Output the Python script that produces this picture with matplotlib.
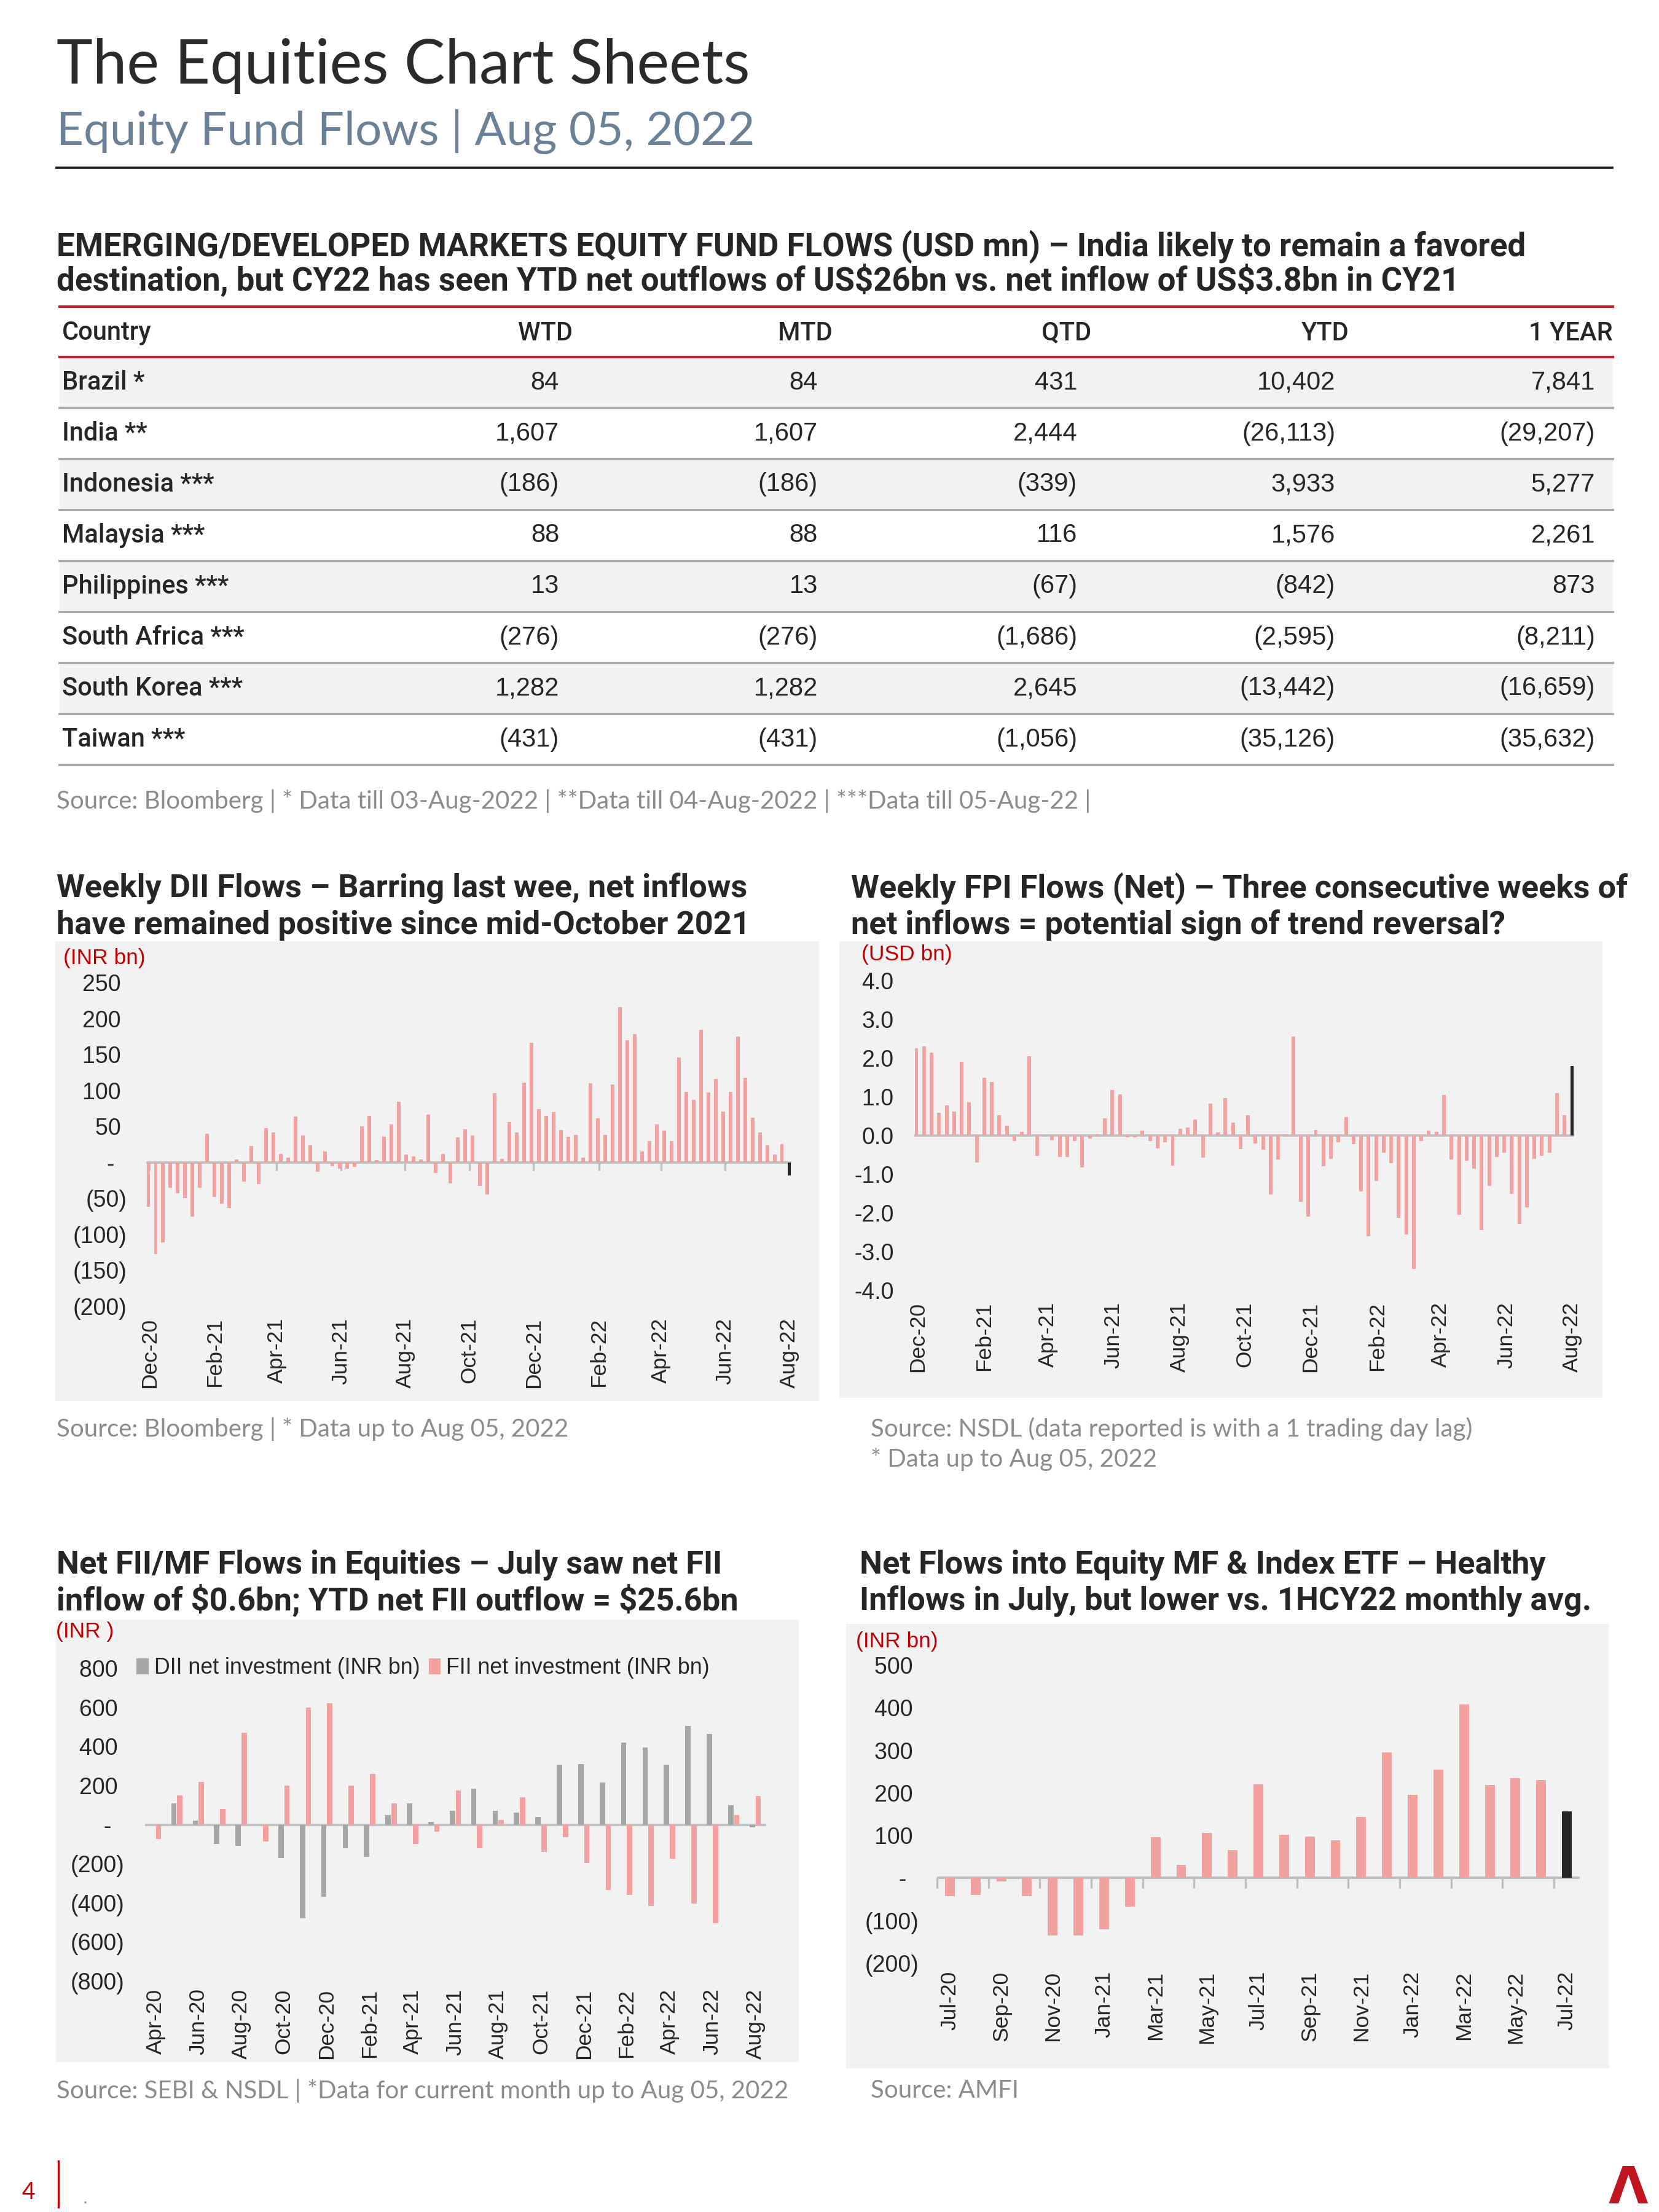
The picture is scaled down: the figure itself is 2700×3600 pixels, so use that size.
import matplotlib
matplotlib.use('Agg')
import matplotlib.pyplot as plt
import matplotlib.dates as mdates
import matplotlib.font_manager as fm
from matplotlib.patches import Rectangle
from matplotlib.lines import Line2D
from matplotlib.ticker import FuncFormatter
import numpy as np
import pandas as pd

# ---------------- data ----------------
table_countries = ['Brazil *', 'India **', 'Indonesia ***', 'Malaysia ***',
                   'Philippines ***', 'South Africa ***', 'South Korea ***', 'Taiwan ***']
table_columns = ['WTD', 'MTD', 'QTD', 'YTD', '1 YEAR']
wtd = [84, 1607, -186, 88, 13, -276, 1282, -431]
mtd = [84, 1607, -186, 88, 13, -276, 1282, -431]
qtd = [431, 2444, -339, 116, -67, -1686, 2645, -1056]
ytd = [10402, -26113, 3933, 1576, -842, -2595, -13442, -35126]
one_year = [7841, -29207, 5277, 2261, 873, -8211, -16659, -35632]

week_end = '2022-08-05'
weekly_tick_start = '2020-12-05'
dii_weekly = [-62, -127, -111, -35, -43, -50, -75, -35, 40, -48, -57, -63, 4, -27, 23, -30,
              48, 42, 12, 7, 64, 37, 24, -13, 15, -5, -9, -9, -6, 50, 65, 3, 36, 53, 84, 11,
              8, 4, 66, -15, 12, -29, 35, 46, 37, -33, -45, 96, 5, 56, 42, 111, 166, 74, 65,
              70, 45, 36, 38, 7, 110, 61, 38, 108, 216, 170, 178, 15, 30, 53, 44, 30, 146, 98,
              87, 184, 97, 116, 71, 98, 175, 118, 62, 42, 24, 11, 25, -18]
fpi_weekly = [2.25, 2.3, 2.15, 0.58, 0.77, 0.62, 1.9, 0.85, -0.7, 1.5, 1.38, 0.53, 0.25, -0.15,
              0.1, 2.05, -0.52, 0.02, -0.13, -0.55, -0.55, -0.15, -0.82, -0.08, 0.03, 0.45, 1.18,
              1.07, -0.05, -0.05, 0.12, -0.15, -0.33, -0.17, -0.77, 0.18, 0.2, 0.42, -0.57, 0.83,
              0.08, 0.97, 0.33, -0.35, 0.52, -0.2, -0.37, -1.52, -0.62, 0.03, 2.55, -1.72, -2.1,
              0.15, -0.8, -0.6, -0.17, 0.47, -0.22, -1.45, -2.6, -1.18, -0.45, -0.72, -2.12,
              -2.55, -3.45, -0.15, 0.12, 0.1, 1.05, -0.62, -2.05, -0.65, -0.85, -2.45, -1.3,
              -0.55, -0.45, -1.5, -2.28, -1.85, -0.6, -0.52, -0.45, 1.1, 0.53, 1.8]

fiimf_months = ['Apr-20', 'May-20', 'Jun-20', 'Jul-20', 'Aug-20', 'Sep-20', 'Oct-20', 'Nov-20',
                'Dec-20', 'Jan-21', 'Feb-21', 'Mar-21', 'Apr-21', 'May-21', 'Jun-21', 'Jul-21',
                'Aug-21', 'Sep-21', 'Oct-21', 'Nov-21', 'Dec-21', 'Jan-22', 'Feb-22', 'Mar-22',
                'Apr-22', 'May-22', 'Jun-22', 'Jul-22', 'Aug-22']
dii_monthly = [-3, 110, 20, -100, -110, 0, -170, -480, -370, -120, -165, 50, 110, 15, 70, 185,
               70, 60, 40, 305, 310, 215, 420, 395, 305, 505, 465, 100, -15]
fii_monthly = [-75, 150, 220, 80, 470, -85, 200, 600, 620, 200, 260, 110, -100, -35, 175, -120,
               25, 140, -140, -65, -195, -335, -360, -415, -175, -405, -505, 50, 145]

mf_months = ['Jul-20', 'Aug-20', 'Sep-20', 'Oct-20', 'Nov-20', 'Dec-20', 'Jan-21', 'Feb-21',
             'Mar-21', 'Apr-21', 'May-21', 'Jun-21', 'Jul-21', 'Aug-21', 'Sep-21', 'Oct-21',
             'Nov-21', 'Dec-21', 'Jan-22', 'Feb-22', 'Mar-22', 'Apr-22', 'May-22', 'Jun-22',
             'Jul-22']
mf_flows = [-42, -40, -8, -42, -135, -135, -120, -67, 96, 31, 106, 65, 220, 102, 97, 88, 143,
            295, 195, 255, 408, 218, 235, 230, 157]

# ---------------- style ----------------
PINK = '#f3a2a2'
GREY_BAR = '#a6a6a6'
BLACK_BAR = '#262626'
PANEL = '#f2f2f2'
RED = '#c00000'
TXT = '#262626'
SRC = '#8c8c8c'
AXLINE = '#bfbfbf'

names = {f.name for f in fm.fontManager.ttflist}
def pick(*cands):
    for c in cands:
        if c in names:
            return c
    return 'DejaVu Sans'

F_HEAD = pick('Lato', 'Open Sans', 'Roboto')
F_BODY = pick('Liberation Sans', 'Arial', 'DejaVu Sans')
F_TTL = pick('Liberation Sans Narrow', 'Roboto', 'Open Sans')
F_LBL = pick('Roboto', 'Open Sans', 'Liberation Sans')
plt.rcParams['font.family'] = [F_BODY, 'DejaVu Sans']

W, H, DPI = 2700, 3600, 300
fig = plt.figure(figsize=(W / DPI, H / DPI), dpi=DPI)
fig.patch.set_facecolor('white')
renderer = fig.canvas.get_renderer()


def T(x, y, s, **kw):
    return fig.text(x / W, 1 - y / H, s, **kw)


def fit(s, target, **kw):
    t = fig.text(0, 0, s, fontsize=20, **kw)
    w = t.get_window_extent(renderer=renderer).width
    t.remove()
    return 20 * target / w


def hline(x0, x1, y, **kw):
    fig.add_artist(Line2D([x0 / W, x1 / W], [1 - y / H, 1 - y / H], **kw))


def rect(x0, y0, x1, y1, color, z=-1):
    fig.add_artist(Rectangle((x0 / W, 1 - y1 / H), (x1 - x0) / W, (y1 - y0) / H,
                             transform=fig.transFigure, facecolor=color,
                             edgecolor='none', zorder=z))


def add_ax(x0, y0, x1, y1):
    ax = fig.add_axes([x0 / W, 1 - y1 / H, (x1 - x0) / W, (y1 - y0) / H])
    ax.set_facecolor('none')
    for s in ax.spines.values():
        s.set_visible(False)
    return ax


def paren_fmt(v, pos):
    if abs(v) < 1e-9:
        return '-  '
    if v < 0:
        return f'({abs(v):,.0f})'
    return f'{v:,.0f} '


def acct(v):
    return f'({abs(v):,})' if v < 0 else f'{v:,}'


# ---------------- header ----------------
s_title = fit('The Equities Chart Sheets', 1131, family=F_HEAD)
T(92, 136, 'The Equities Chart Sheets', fontsize=s_title, family=F_HEAD,
  color='#2b2b2b', va='baseline')
s_sub = fit('Equity Fund Flows | Aug 05, 2022', 1139, family=F_HEAD)
T(92, 236, 'Equity Fund Flows | Aug 05, 2022', fontsize=s_sub, family=F_HEAD,
  color='#6b8197', va='baseline')
hline(92, 2624, 273, color='#1a1a1a', lw=0.9)

# ---------------- table ----------------
tt1 = 'EMERGING/DEVELOPED MARKETS EQUITY FUND FLOWS (USD mn) \u2013 India likely to remain a favored'
tt2 = 'destination, but CY22 has seen YTD net outflows of US\\$26bn vs. net inflow of US\\$3.8bn in CY21'
s_tt = fit(tt1, 2394, family=F_TTL, weight='bold')
T(92, 417, tt1, fontsize=s_tt, family=F_TTL, weight='bold', color=TXT, va='baseline')
T(92, 473, tt2, fontsize=s_tt, family=F_TTL, weight='bold', color=TXT, va='baseline')

TX0, TX1 = 97, 2625
hline(TX0, TX1, 499, color='#c8202a', lw=1.0)
hline(TX0, TX1, 581, color='#c8202a', lw=1.0)
head_right = [932, 1355, 1776, 2196, 2625]
val_right = [910, 1331, 1753, 2173, 2596]
T(101, 542, 'Country', fontsize=10, color=TXT, va='center', family=F_LBL, weight='medium')
for name, xr in zip(table_columns, head_right):
    T(xr, 542, name, fontsize=10, color=TXT, va='center', ha='right', family=F_LBL,
      weight='medium')
cols = [wtd, mtd, qtd, ytd, one_year]
ROW = 83
for i, c in enumerate(table_countries):
    top = 581 + ROW * i
    if i % 2 == 0:
        rect(TX0, top + 2, TX1, top + ROW, PANEL)
    hline(TX0, TX1, top + ROW, color='#a6a6a6', lw=0.9)
    T(101, top + ROW / 2, c, fontsize=10, color=TXT, va='center', family=F_LBL,
      weight='medium')
    for col, xr in zip(cols, val_right):
        T(xr, top + ROW / 2, acct(col[i]), fontsize=10, color=TXT, va='center', ha='right',
          family=F_BODY)

src_tbl = ('Source: Bloomberg | * Data till 03-Aug-2022 | **Data till 04-Aug-2022 | '
           '***Data till 05-Aug-22 |')
s_src = fit('Source: SEBI & NSDL | *Data for current month up to Aug 05, 2022', 1192,
            family=F_HEAD)
T(92, 1304, src_tbl, fontsize=s_src, family=F_HEAD, color=SRC, va='center')

# ---------------- chart titles ----------------
ct_kw = dict(family=F_TTL, weight='bold', color=TXT, va='baseline')
s_ct = fit('Weekly DII Flows \u2013 Barring last wee, net inflows', 1124,
           family=F_TTL, weight='bold')
T(92, 1460, 'Weekly DII Flows \u2013 Barring last wee, net inflows', fontsize=s_ct, **ct_kw)
T(92, 1520, 'have remained positive since mid-October 2021', fontsize=s_ct, **ct_kw)
T(1385, 1460, 'Weekly FPI Flows (Net) \u2013 Three consecutive weeks of', fontsize=s_ct, **ct_kw)
T(1385, 1520, 'net inflows = potential sign of trend reversal?', fontsize=s_ct, **ct_kw)
T(92, 2560, 'Net FII/MF Flows in Equities \u2013 July saw net FII', fontsize=s_ct, **ct_kw)
T(92, 2620, 'inflow of \\$0.6bn; YTD net FII outflow = \\$25.6bn', fontsize=s_ct, **ct_kw)
T(1399, 2560, 'Net Flows into Equity MF & Index ETF \u2013 Healthy', fontsize=s_ct, **ct_kw)
T(1399, 2620, 'Inflows in July, but lower vs. 1HCY22 monthly avg.', fontsize=s_ct, **ct_kw)

# ---------------- panels ----------------
rect(90, 1532, 1333, 2280, PANEL)
rect(1366, 1532, 2608, 2275, PANEL)
rect(91, 2636, 1300, 3356, PANEL)
rect(1377, 2643, 2619, 3366, PANEL)

weeks = pd.date_range(end=week_end, periods=len(dii_weekly), freq='7D')
wticks = pd.date_range(start=weekly_tick_start, end=week_end, freq=pd.DateOffset(months=2))
day = pd.Timedelta(days=2)

# chart 1: weekly DII
ax1 = add_ax(238, 1599, 1288, 2126)
c1 = [PINK] * (len(dii_weekly) - 1) + [BLACK_BAR]
ax1.axhline(0, color=AXLINE, lw=0.9, zorder=1)
ax1.bar(weeks, dii_weekly, width=3.4, color=c1, zorder=2)
ax1.plot(wticks, np.zeros(len(wticks)), ls='none', marker=3, ms=3, mew=0.8, color=AXLINE,
         clip_on=False, zorder=1)
ax1.set_xlim(weeks[0] - day, weeks[-1] + day)
ax1.set_ylim(-200, 250)
ax1.set_yticks([-200, -150, -100, -50, 0, 50, 100, 150, 200, 250])
ax1.yaxis.set_major_formatter(FuncFormatter(paren_fmt))
ax1.set_xticks(wticks)
ax1.xaxis.set_major_formatter(mdates.DateFormatter('%b-%y'))
ax1.tick_params(axis='y', length=0, pad=7.5, labelsize=9, labelcolor=TXT)
ax1.tick_params(axis='x', length=0, pad=4.5, labelsize=8.5, labelcolor=TXT, labelrotation=90)
T(103, 1559, '(INR bn)', fontsize=8.5, color=RED, va='center')
T(92, 2326, 'Source: Bloomberg | * Data up to Aug 05, 2022', fontsize=s_src, family=F_HEAD,
  color=SRC, va='center')

# chart 2: weekly FPI
ax2 = add_ax(1488, 1596, 2562, 2100)
c2 = [PINK] * (len(fpi_weekly) - 1) + [BLACK_BAR]
ax2.axhline(0, color=AXLINE, lw=0.9, zorder=1)
ax2.bar(weeks, fpi_weekly, width=3.4, color=c2, zorder=2)
ax2.set_xlim(weeks[0] - day, weeks[-1] + day)
ax2.set_ylim(-4, 4)
ax2.set_yticks([-4, -3, -2, -1, 0, 1, 2, 3, 4])
ax2.yaxis.set_major_formatter(FuncFormatter(lambda v, p: f'{v:.1f}'))
ax2.set_xticks(wticks)
ax2.xaxis.set_major_formatter(mdates.DateFormatter('%b-%y'))
ax2.tick_params(axis='y', length=0, pad=8, labelsize=9, labelcolor=TXT)
ax2.tick_params(axis='x', length=0, pad=4.5, labelsize=8.5, labelcolor=TXT, labelrotation=90)
T(1402, 1554, '(USD bn)', fontsize=8.5, color=RED, va='center')
T(1417, 2326, 'Source: NSDL (data reported is with a 1 trading day lag)', fontsize=s_src,
  family=F_HEAD, color=SRC, va='center')
T(1417, 2375, '* Data up to Aug 05, 2022', fontsize=s_src, family=F_HEAD, color=SRC, va='center')

# chart 3: monthly FII / DII
ax3 = add_ax(235.6, 2715, 1246.5, 3224)
x3 = np.arange(len(fiimf_months))
ax3.axhline(0, color=AXLINE, lw=0.9, zorder=1)
b_dii = ax3.bar(x3 - 0.14, dii_monthly, width=0.25, color=GREY_BAR, zorder=2,
                label='DII net investment (INR bn)')
b_fii = ax3.bar(x3 + 0.14, fii_monthly, width=0.25, color=PINK, zorder=2,
                label='FII net investment (INR bn)')
ax3.set_xlim(-0.5, len(fiimf_months) - 0.5)
ax3.set_ylim(-800, 800)
ax3.set_yticks([-800, -600, -400, -200, 0, 200, 400, 600, 800])
ax3.yaxis.set_major_formatter(FuncFormatter(paren_fmt))
ax3.set_xticks(x3[::2])
ax3.set_xticklabels(fiimf_months[::2])
ax3.tick_params(axis='y', length=0, pad=8, labelsize=9, labelcolor=TXT)
ax3.tick_params(axis='x', length=0, pad=3, labelsize=8.5, labelcolor=TXT, labelrotation=90)
ax3.legend(handles=[b_dii, b_fii], loc='center left', bbox_to_anchor=(222 / W, 1 - 2715 / H),
           bbox_transform=fig.transFigure, ncol=2, frameon=False, fontsize=8.6,
           handlelength=0.55, handleheight=0.75, handletextpad=0.25, columnspacing=0.4,
           borderaxespad=0, borderpad=0, labelcolor=TXT)
T(91, 2655, '(INR )', fontsize=8.5, color=RED, va='center')
T(92, 3403, 'Source: SEBI & NSDL | *Data for current month up to Aug 05, 2022', fontsize=s_src,
  family=F_HEAD, color=SRC, va='center')

# chart 4: monthly MF / ETF flows
ax4 = add_ax(1525, 2710, 2571, 3195)
x4 = np.arange(len(mf_months))
c4 = [PINK] * (len(mf_flows) - 1) + [BLACK_BAR]
ax4.axhline(0, color=AXLINE, lw=1.0, zorder=1)
ax4.bar(x4, mf_flows, width=0.38, color=c4, zorder=2)
bounds = np.arange(-0.5, len(mf_months) - 1, 2)
ax4.plot(bounds, np.zeros(len(bounds)), ls='none', marker=3, ms=4, mew=0.8, color=AXLINE,
         clip_on=False, zorder=1)
ax4.set_xlim(-0.5, len(mf_months) - 0.5)
ax4.set_ylim(-200, 500)
ax4.set_yticks([-200, -100, 0, 100, 200, 300, 400, 500])
ax4.yaxis.set_major_formatter(FuncFormatter(paren_fmt))
ax4.set_xticks(x4[::2])
ax4.set_xticklabels(mf_months[::2])
ax4.tick_params(axis='y', length=0, pad=7, labelsize=9, labelcolor=TXT)
ax4.tick_params(axis='x', length=0, pad=3, labelsize=8.5, labelcolor=TXT, labelrotation=90)
T(1393, 2671, '(INR bn)', fontsize=8.5, color=RED, va='center')
T(1417, 3403, 'Source: AMFI', fontsize=s_src, family=F_HEAD, color=SRC, va='center')

# ---------------- footer ----------------
T(46, 3568, '4', fontsize=9, color=RED, va='center', ha='center', family=F_HEAD)
fig.add_artist(Line2D([95 / W, 95 / W], [1 - 3517 / H, 1 - 3592 / H], color=RED, lw=0.8))
T(138, 3578, '.', fontsize=7, color=SRC, va='center', ha='center')
T(2650, 3562, '\u039b', fontsize=20, color='#c0151f', weight='bold', va='center', ha='center',
  family='DejaVu Sans')

fig.savefig('out.png', dpi=DPI, facecolor='white')
